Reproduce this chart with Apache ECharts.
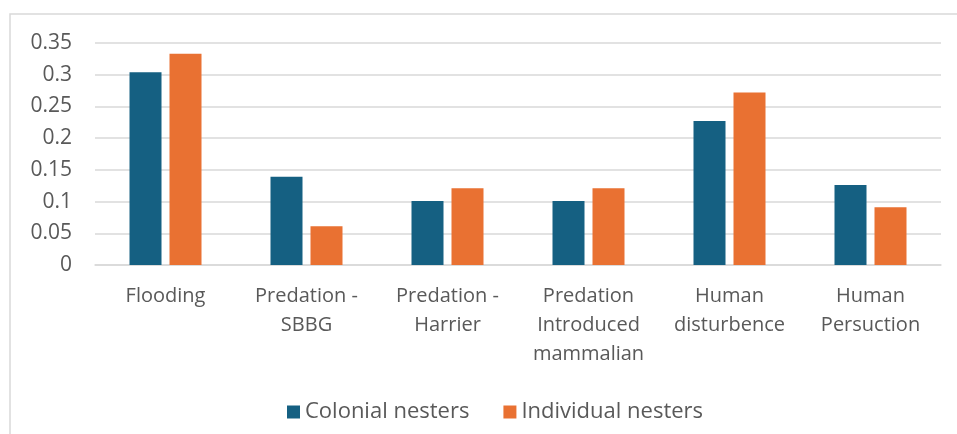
<!DOCTYPE html>
<html><head><meta charset="utf-8">
<script src="https://cdn.jsdelivr.net/npm/echarts@6/dist/echarts.min.js"></script>
<style>html,body{margin:0;padding:0;background:#fff}#c{width:957px;height:434px}</style>
</head><body><div id="c"></div>
<script>
const categories = ["Flooding", "Predation -\nSBBG", "Predation -\nHarrier", "Predation\nIntroduced\nmammalian", "Human\ndisturbence", "Human\nPersuction"];
const colonialNesters = [0.304, 0.139, 0.101, 0.101, 0.227, 0.126];
const individualNesters = [0.333, 0.061, 0.121, 0.121, 0.272, 0.091];
const seriesNames = ["Colonial nesters", "Individual nesters"];

const FONT = '"Open Sans", Roboto, sans-serif';
const chart = echarts.init(document.getElementById('c'));
chart.setOption({
  animation: false,
  backgroundColor: '#fff',
  textStyle: {fontFamily: FONT},
  graphic: [{type: 'rect', shape: {x: 10, y: 14, width: 960, height: 440},
    style: {fill: 'none', stroke: '#d9d9d9', lineWidth: 1.5}, silent: true}],
  grid: {left: 95, right: 16, top: 43, bottom: 169},
  legend: {
    top: 394, left: 282, itemWidth: 13, itemHeight: 13, itemGap: 34,
    icon: 'rect',
    textStyle: {color: '#595959', fontSize: 22, lineHeight: 26, fontFamily: FONT},
    data: seriesNames
  },
  xAxis: {
    type: 'category', data: categories,
    axisLine: {lineStyle: {color: '#d9d9d9', width: 1.5}},
    axisTick: {show: false},
    axisLabel: {color: '#595959', fontSize: 20, lineHeight: 29, margin: 17, interval: 0, fontFamily: FONT}
  },
  yAxis: {
    type: 'value', min: 0, max: 0.35, interval: 0.05,
    axisLine: {show: false}, axisTick: {show: false},
    splitLine: {lineStyle: {color: '#d9d9d9', width: 1.5}},
    axisLabel: {color: '#595959', fontSize: 21, margin: 23, fontFamily: FONT,
      formatter: v => String(+v.toFixed(2))}
  },
  series: [
    {name: seriesNames[0], type: 'bar', data: colonialNesters, barWidth: 32, barGap: '25%',
      itemStyle: {color: '#156082'}},
    {name: seriesNames[1], type: 'bar', data: individualNesters, barWidth: 32, barGap: '25%',
      itemStyle: {color: '#E97132'}}
  ]
});
</script></body></html>
